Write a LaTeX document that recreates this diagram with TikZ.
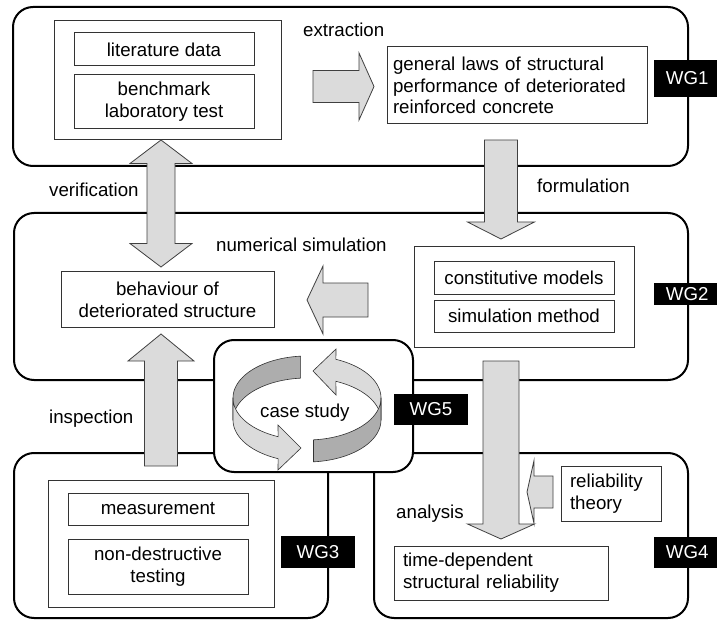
\documentclass[tikz,border=0pt]{standalone}
\usepackage{fontspec}
\setmainfont{Liberation Sans}
\usetikzlibrary{calc}
\definecolor{arrowgray}{gray}{0.86}
\definecolor{ribdark}{gray}{0.68}
\definecolor{riblight}{gray}{0.86}

\begin{document}
\begin{tikzpicture}[x=1pt, y=-1pt,
  every node/.style={font=\fontsize{18.7pt}{21.7pt}\selectfont, inner sep=0pt},
  frame/.style={draw=black, line width=2pt, rounded corners=20pt, fill=white},
  box/.style={draw=black!80, line width=1pt, fill=white, align=center},
  wg/.style={fill=black, text=white, minimum width=74pt},
  blockarrow/.style={draw=black!75, line width=0.8pt, fill=arrowgray},
  ribbon/.style={draw=black!80, line width=0.6pt}]
\useasboundingbox (0,0) rectangle (717,620);

% working group frames
\node[frame, minimum width=675pt, minimum height=159pt] (fr1) at (350.5,86.5) {};
\node[frame, minimum width=674pt, minimum height=167pt] (fr2) at (351,296.5) {};
\node[frame, minimum width=314pt, minimum height=165pt] (fr3) at (171,535.5) {};
\node[frame, minimum width=314pt, minimum height=165pt] (fr4) at (531,535.5) {};

% WG1 contents
\node[box, minimum width=227pt, minimum height=119pt] (src) at (167.5,80.5) {};
\node[box, minimum width=180pt, minimum height=33pt] (lit) at (164,49.5) {literature data};
\node[box, minimum width=180pt, minimum height=54pt] (bench) at (164,102) {benchmark\\laboratory test};
\node[box, align=left, text width=248pt, inner xsep=6pt, minimum height=77pt] (laws) at (517,85.5) {general laws of structural\\performance of deteriorated\\reinforced concrete};

% WG2 contents
\node[box, minimum width=213pt, minimum height=55pt] (behav) at (167.5,299.5) {behaviour of\\deteriorated structure};
\node[box, minimum width=220pt, minimum height=100pt] (simbox) at (524,297) {};
\node[box, minimum width=180pt, minimum height=32pt] (const) at (524,278) {constitutive models};
\node[box, minimum width=180pt, minimum height=32pt] (method) at (524,316) {simulation method};

% WG3 contents
\node[box, minimum width=226pt, minimum height=127pt] (insbox) at (161,543.5) {};
\node[box, minimum width=180pt, minimum height=32pt] (meas) at (158,509) {measurement};
\node[box, minimum width=180pt, minimum height=55pt] (ndt) at (158,566.5) {non-destructive\\testing};

% WG4 contents
\node[box, align=left, text width=82pt, inner xsep=9pt, minimum height=55pt] (rel) at (611,493.5) {reliability\\theory};
\node[box, align=left, text width=196pt, inner xsep=9pt, minimum height=54pt] (tdr) at (501,573) {time-dependent\\structural reliability};

% process names
\node[anchor=base west] (lext) at (303,37) {extraction};
\node[anchor=base west] (lfrm) at (537,193) {formulation};
\node[anchor=base west] (lver) at (49,197) {verification};
\node[anchor=base west] (lnum) at (216,252) {numerical simulation};
\node[anchor=base west] (lins) at (49,423) {inspection};
\node[anchor=base west] (lana) at (396,518) {analysis};

% block arrows: tail and tip of each
\coordinate (ext1) at (313,86.5);  \coordinate (ext2) at (374,86.5);
\coordinate (frm1) at (501,140);   \coordinate (frm2) at (501,239);
\coordinate (num1) at (368,300);   \coordinate (num2) at (307,300);
\coordinate (ins1) at (161,466);   \coordinate (ins2) at (161,334);
\coordinate (ana1) at (501,361);   \coordinate (ana2) at (501,539);
\coordinate (rel1) at (553,492);   \coordinate (rel2) at (527,492);
\coordinate (ver1) at (161,140);   \coordinate (ver2) at (161,267);
\foreach \a/\b/\w/\h/\l in {ext1/ext2/16/33.5/15, frm1/frm2/16.5/33.5/17, num1/num2/17/34/16,
    ins1/ins2/16.5/33/27, ana1/ana2/18/33.5/15, rel1/rel2/16/31.5/7} { %half shaft, half head, head length
  \coordinate (hb) at ($(\b)!\l pt!(\a)$);
  \draw[blockarrow] ($(\a)!\w pt!90:(\b)$) -- ($(hb)!\w pt!90:(\b)$) -- ($(hb)!\h pt!90:(\b)$)
    -- (\b) -- ($(hb)!\h pt!-90:(\b)$) -- ($(hb)!\w pt!-90:(\b)$) -- ($(\a)!\w pt!-90:(\b)$) -- cycle;
}
% verification goes both ways
\coordinate (hb1) at ($(ver1)!23.5pt!(ver2)$);
\coordinate (hb2) at ($(ver2)!23.5pt!(ver1)$);
\draw[blockarrow] (ver1) -- ($(hb1)!31pt!90:(ver2)$) -- ($(hb1)!14pt!90:(ver2)$) -- ($(hb2)!14pt!90:(ver2)$)
  -- ($(hb2)!31pt!90:(ver2)$) -- (ver2) -- ($(hb2)!31pt!-90:(ver2)$) -- ($(hb2)!14pt!-90:(ver2)$)
  -- ($(hb1)!14pt!-90:(ver2)$) -- ($(hb1)!31pt!-90:(ver2)$) -- cycle;

% WG5 case study
\node[frame, minimum width=199pt, minimum height=132pt] (fr5) at (313.5,406) {};
% back of the ring
\filldraw[ribbon, fill=ribdark] plot[domain=95:180, samples=30] ({307+74*cos(\x)},{398-42*sin(\x)})
  -- plot[domain=180:95, samples=30] ({307+74*cos(\x)},{420-42*sin(\x)}) -- cycle;
\filldraw[ribbon, fill=riblight] plot[domain=0:67, samples=30] ({307+74*cos(\x)},{420-42*sin(\x)})
  -- (336,395) -- (313,371) -- (336,349)
  -- plot[domain=67:0, samples=30] ({307+74*cos(\x)},{398-42*sin(\x)}) -- cycle;
% front of the ring
\filldraw[ribbon, fill=riblight] plot[domain=180:247, samples=30] ({307+74*cos(\x)},{398-42*sin(\x)})
  -- (278,425) -- (301,448) -- (278,470)
  -- plot[domain=247:180, samples=30] ({307+74*cos(\x)},{420-42*sin(\x)}) -- cycle;
\filldraw[ribbon, fill=ribdark] plot[domain=275:360, samples=30] ({307+74*cos(\x)},{398-42*sin(\x)})
  -- plot[domain=360:275, samples=30] ({307+74*cos(\x)},{420-42*sin(\x)}) -- cycle;
\node[anchor=base west] (lcase) at (260,417) {case study};

% working group tags
\node[wg, minimum width=66pt, minimum height=37pt, anchor=west] (wg1) at (654,78.5) {WG1};
\node[wg, minimum width=66pt, minimum height=22pt, anchor=west] (wg2) at (654,294) {WG2};
\node[wg, minimum height=32pt] (wg3) at (318,552) {WG3};
\node[wg, minimum width=66pt, minimum height=31pt, anchor=west] (wg4) at (654,552.5) {WG4};
\node[wg, minimum height=31pt] (wg5) at (431,409.5) {WG5};
\end{tikzpicture}
\end{document}
